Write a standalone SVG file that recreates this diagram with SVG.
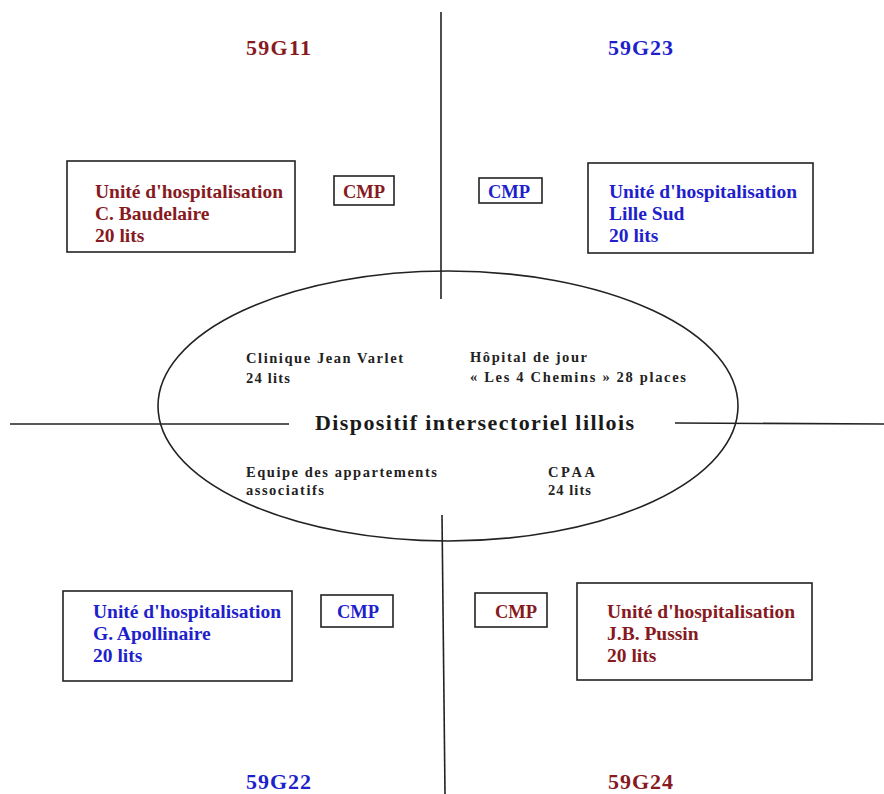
<svg xmlns="http://www.w3.org/2000/svg" width="884" height="794" viewBox="0 0 884 794">
<style>
.bg{fill:#ffffff}
.box{fill:#ffffff;stroke:#222222;stroke-width:1.6}
.ln{stroke:#222222;stroke-width:1.6;fill:none}
.t{font-family:"Liberation Serif","Times New Roman",serif;font-weight:bold}
.red{fill:#861a1e}
.blue{fill:#1f1fcc}
.unit{font-size:19.5px}
.cmp{font-size:18.5px}
.sec{font-size:22px}
.in{font-size:14.5px;fill:#222222}
.main{font-size:22px;fill:#1a1a1a}
</style>
<rect class="bg" x="0" y="0" width="884" height="794"/>
<g id="connectors">
<line class="ln" x1="441" y1="12" x2="441" y2="299"/>
<line class="ln" x1="442" y1="515" x2="445" y2="794"/>
<line class="ln" x1="10" y1="424" x2="289" y2="424"/>
<line class="ln" x1="675" y1="423" x2="884" y2="424"/>
</g>
<g id="centre">
<ellipse class="ln" cx="448" cy="406" rx="290" ry="135"/>
<text class="t in" x="246" y="363" textLength="157" lengthAdjust="spacing">Clinique Jean Varlet</text>
<text class="t in" x="246" y="383" textLength="44" lengthAdjust="spacing">24 lits</text>
<text class="t in" x="470" y="362" textLength="117" lengthAdjust="spacing">Hôpital de jour</text>
<text class="t in" x="470" y="382" textLength="216" lengthAdjust="spacing">« Les 4 Chemins » 28 places</text>
<text class="t main" x="315" y="430" textLength="319" lengthAdjust="spacing">Dispositif intersectoriel lillois</text>
<text class="t in" x="246" y="477" textLength="191" lengthAdjust="spacing">Equipe des appartements</text>
<text class="t in" x="246" y="495" textLength="78" lengthAdjust="spacing">associatifs</text>
<text class="t in" x="548" y="477" textLength="47" lengthAdjust="spacing">CPAA</text>
<text class="t in" x="548" y="495" textLength="43" lengthAdjust="spacing">24 lits</text>
</g>
<g id="sector-59G11">
<text class="t sec red" x="246" y="55" textLength="65" lengthAdjust="spacing">59G11</text>
</g>
<g id="sector-59G23">
<text class="t sec blue" x="608" y="55" textLength="65" lengthAdjust="spacing">59G23</text>
</g>
<g id="sector-59G22">
<text class="t sec blue" x="246" y="789" textLength="65" lengthAdjust="spacing">59G22</text>
</g>
<g id="sector-59G24">
<text class="t sec red" x="608" y="789" textLength="65" lengthAdjust="spacing">59G24</text>
</g>
<g id="unit-baudelaire">
<rect class="box" x="67" y="161" width="228" height="91"/>
<text class="t unit red" x="95" y="198">Unité d'hospitalisation</text>
<text class="t unit red" x="95" y="220">C. Baudelaire</text>
<text class="t unit red" x="95" y="242">20 lits</text>
</g>
<g id="cmp-59G11">
<rect class="box" x="334" y="176" width="60" height="29"/>
<text class="t cmp red" x="343" y="198">CMP</text>
</g>
<g id="cmp-59G23">
<rect class="box" x="479" y="178" width="63" height="25"/>
<text class="t cmp blue" x="488" y="198">CMP</text>
</g>
<g id="unit-lille-sud">
<rect class="box" x="588" y="163" width="225" height="90"/>
<text class="t unit blue" x="609" y="198">Unité d'hospitalisation</text>
<text class="t unit blue" x="609" y="220">Lille Sud</text>
<text class="t unit blue" x="609" y="242">20 lits</text>
</g>
<g id="unit-apollinaire">
<rect class="box" x="63" y="591" width="229" height="90"/>
<text class="t unit blue" x="93" y="618">Unité d'hospitalisation</text>
<text class="t unit blue" x="93" y="640">G. Apollinaire</text>
<text class="t unit blue" x="93" y="662">20 lits</text>
</g>
<g id="cmp-59G22">
<rect class="box" x="321" y="595" width="72" height="32"/>
<text class="t cmp blue" x="337" y="618">CMP</text>
</g>
<g id="cmp-59G24">
<rect class="box" x="475" y="593" width="72" height="34"/>
<text class="t cmp red" x="495" y="618">CMP</text>
</g>
<g id="unit-pussin">
<rect class="box" x="577" y="583" width="235" height="97"/>
<text class="t unit red" x="607" y="618">Unité d'hospitalisation</text>
<text class="t unit red" x="607" y="640">J.B. Pussin</text>
<text class="t unit red" x="607" y="662">20 lits</text>
</g>
</svg>
